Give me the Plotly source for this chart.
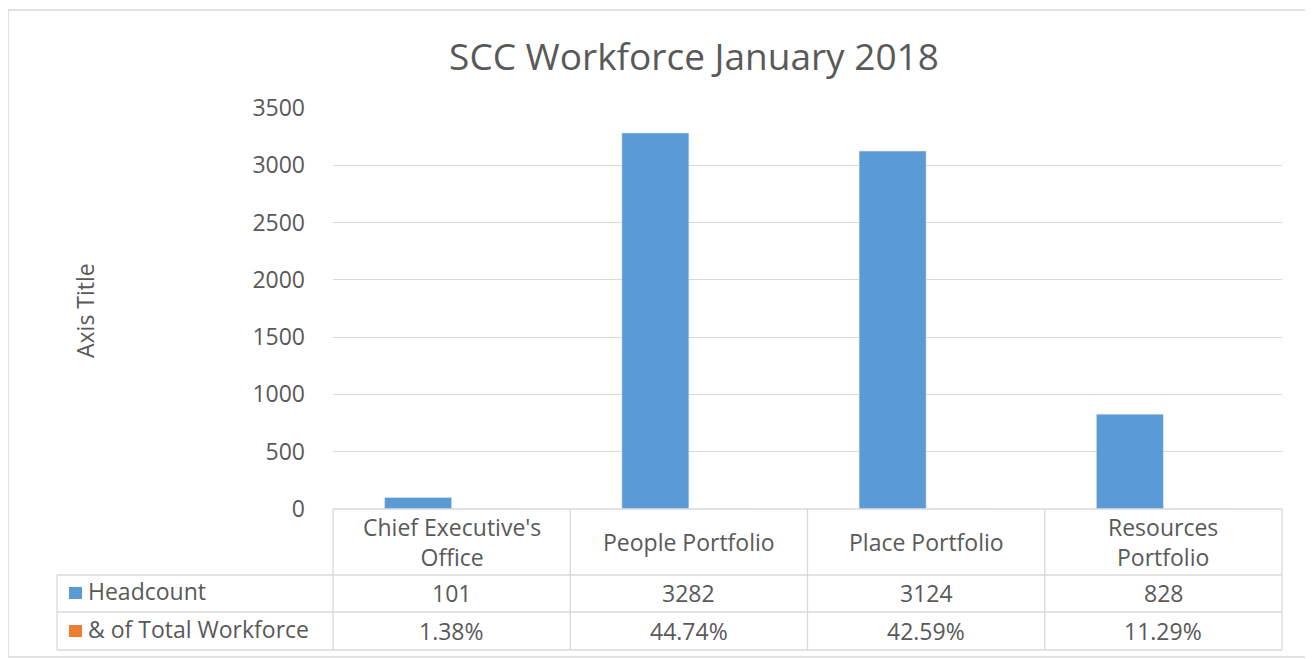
import plotly.graph_objects as go

categories = ["Chief Executive's Office", "People Portfolio", "Place Portfolio", "Resources Portfolio"]
category_labels = ["Chief Executive's<br>Office", "People Portfolio", "Place Portfolio", "Resources<br>Portfolio"]
headcount = [101, 3282, 3124, 828]
pct_total = [1.38, 44.74, 42.59, 11.29]
series_names = ["Headcount", "& of Total Workforce"]
colors = ["#5B9BD5", "#ED7D31"]

OFF = 8  # default page body margin
W, H = 1313 - OFF, 659 - OFF
# target screenshot pixel positions
PL, PR, PT, PB = 333, 1282, 108, 509
L, R, T, B = PL - OFF, PR - OFF, PT - OFF, PB - OFF
FONT = "Open Sans"
TXT = "#595959"
GRID = "#D9D9D9"

fig = go.Figure()
fig.add_trace(go.Bar(x=categories, y=headcount, name=series_names[0], marker_color=colors[0]))
fig.add_trace(go.Bar(x=categories, y=[p / 100 for p in pct_total], name=series_names[1], marker_color=colors[1]))

def py(pix):
    return (PB - pix) / (PB - PT)

def px(pix):
    return (pix - PL) / (PR - PL)

shapes = []
def line(x0, y0, x1, y1):
    shapes.append(dict(type="line", xref="paper", yref="paper", x0=px(x0), y0=py(y0), x1=px(x1), y1=py(y1),
                       line=dict(color=GRID, width=1.3)))

col_edges = [PL + i * (PR - PL) / 4 for i in range(5)]
row_edges = [509, 575, 612, 650]
leg_left = 57
line(PL, row_edges[0], PR, row_edges[0])
for yv in row_edges[1:]:
    line(leg_left, yv, PR, yv)
for xv in col_edges:
    line(xv, row_edges[0], xv, row_edges[3])
line(leg_left, row_edges[1], leg_left, row_edges[3])
# outer chart frame
shapes.append(dict(type="rect", xref="paper", yref="paper", x0=px(8), y0=py(10), x1=px(1310), y1=py(657),
                   line=dict(color="#D9D9D9", width=1.5), layer="below"))
# legend keys
for col, yv in zip(colors, [593, 631]):
    shapes.append(dict(type="rect", xref="paper", yref="paper", x0=px(69), x1=px(82), y0=py(yv - 6), y1=py(yv + 6),
                       fillcolor=col, line=dict(width=0)))

FS = 23
annotations = []
for c, lab in zip(categories, category_labels):
    annotations.append(dict(x=c, xref="x", y=py(542), yref="paper", text=lab, showarrow=False,
                            font=dict(family=FONT, size=FS, color=TXT), xanchor="center", yanchor="middle"))
for c, v in zip(categories, headcount):
    annotations.append(dict(x=c, xref="x", y=py(593), yref="paper", text=str(v), showarrow=False,
                            font=dict(family=FONT, size=FS, color=TXT), xanchor="center", yanchor="middle"))
for c, v in zip(categories, pct_total):
    annotations.append(dict(x=c, xref="x", y=py(631), yref="paper", text=f"{v:.2f}%", showarrow=False,
                            font=dict(family=FONT, size=FS, color=TXT), xanchor="center", yanchor="middle"))
for name, yv in zip(series_names, [591, 629]):
    annotations.append(dict(x=px(86), xref="paper", y=py(yv), yref="paper",
                            text=name, showarrow=False,
                            font=dict(family=FONT, size=FS, color=TXT), xanchor="left", yanchor="middle"))
annotations.append(dict(x=px(67), xref="paper", y=py(311), yref="paper", text="Axis Title", textangle=-90,
                        showarrow=False, font=dict(family=FONT, size=FS, color=TXT)))

fig.update_layout(
    width=W, height=H,
    margin=dict(l=L, r=W - R, t=T, b=H - B, pad=0),
    paper_bgcolor="white", plot_bgcolor="white",
    title=dict(text="SCC Workforce January 2018", x=(694 - OFF) / W, xanchor="center",
               y=1 - (57 - OFF) / H, yanchor="middle",
               font=dict(family=FONT, size=37, color=TXT)),
    barmode="group", bargap=0.435, bargroupgap=0,
    showlegend=False,
    xaxis=dict(showticklabels=False, showgrid=False, zeroline=False, showline=False, ticks=""),
    yaxis=dict(range=[0, 3500], dtick=500, showgrid=True, gridcolor=GRID, gridwidth=1.3, zeroline=False,
               showline=False, ticks="", ticklabelstandoff=27,
               tickfont=dict(family=FONT, size=FS, color=TXT)),
    shapes=shapes, annotations=annotations,
)

fig.write_html("out.html")
